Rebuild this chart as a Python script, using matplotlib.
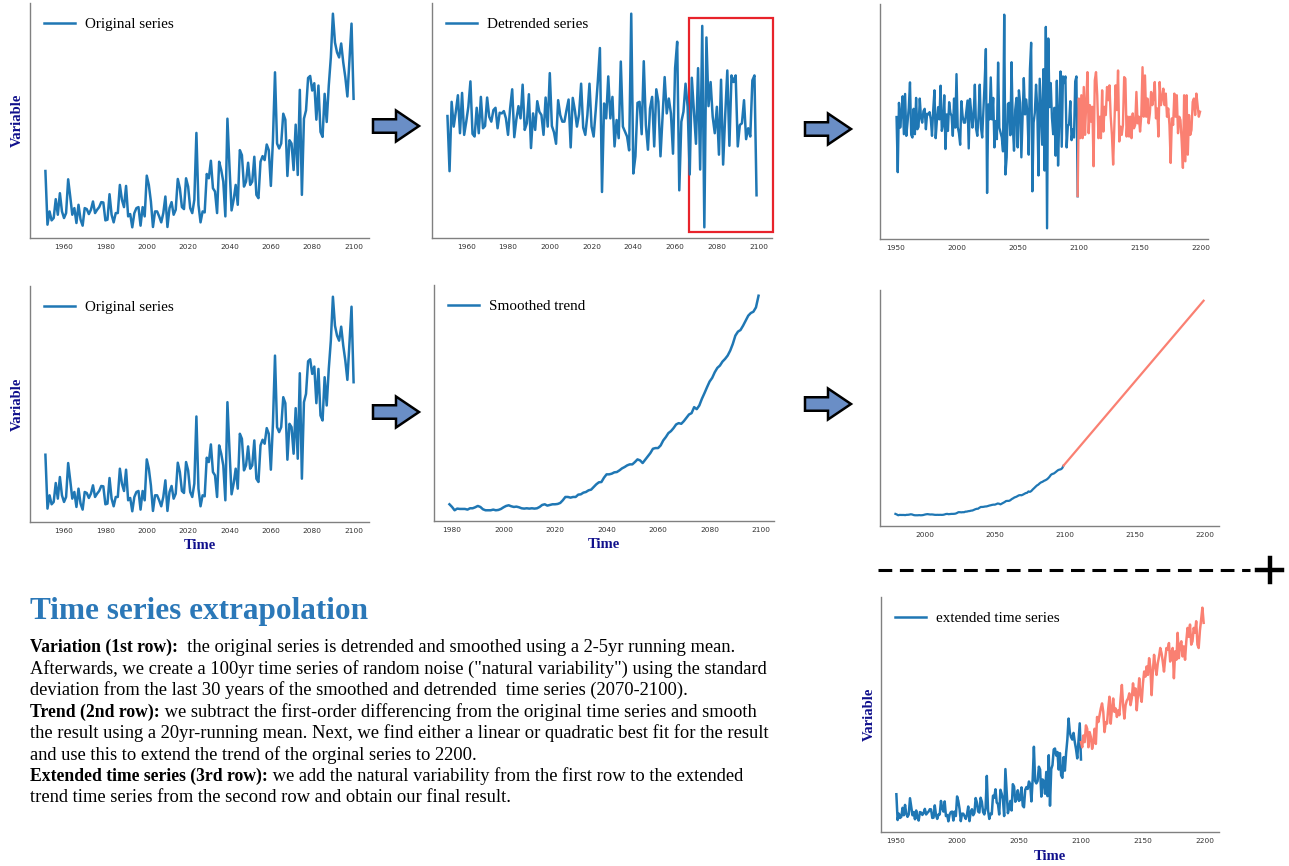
import numpy as np
import matplotlib
matplotlib.use("Agg")
import matplotlib.pyplot as plt
import matplotlib.transforms as mtransforms
from matplotlib.patches import FancyArrow, Rectangle
from matplotlib.lines import Line2D

plt.rcParams['font.serif'] = ['Liberation Serif', 'DejaVu Serif']

# ---- data (arbitrary units) ----
original = [202, 40, 80, 53, 60, 117, 70, 135, 80, 60, 75, 177, 125, 70, 90, 45, 100, 55, 37, 90,
            87, 72, 85, 110, 75, 85, 93, 108, 107, 53, 55, 132, 70, 47, 75, 75, 160, 115, 93, 157,
            65, 72, 32, 75, 90, 93, 37, 93, 65, 188, 160, 110, 33, 80, 80, 65, 47, 75, 125, 33,
            90, 108, 70, 85, 178, 150, 93, 87, 180, 155, 90, 75, 115, 317, 100, 47, 80, 77, 193, 180,
            233, 150, 140, 75, 230, 205, 170, 65, 360, 215, 83, 115, 160, 100, 265, 250, 155, 170, 227, 160,
            170, 245, 130, 120, 230, 247, 235, 282, 265, 157, 295, 500, 285, 270, 285, 375, 357, 187, 295, 285,
            205, 342, 190, 447, 130, 360, 385, 483, 489, 445, 467, 357, 460, 320, 305, 435, 350, 460, 545, 677,
            590, 560, 545, 587, 530, 485, 427, 537, 647, 420]
orig_start = 1951

detrended = [365, 198, 408, 333, 378, 428, 313, 435, 308, 348, 393, 470, 311, 303, 390, 313, 423, 328, 335, 421,
             363, 348, 383, 390, 328, 375, 373, 380, 358, 308, 388, 446, 301, 355, 395, 358, 460, 323, 343, 431,
             268, 373, 323, 410, 378, 368, 308, 421, 333, 495, 335, 316, 281, 413, 368, 348, 348, 383, 415, 270,
             420, 383, 333, 370, 463, 330, 308, 368, 463, 333, 303, 383, 470, 571, 135, 403, 358, 485, 358, 423,
             273, 353, 298, 530, 333, 318, 303, 261, 675, 191, 243, 405, 408, 310, 531, 338, 263, 388, 423, 273,
             446, 408, 243, 363, 483, 373, 418, 373, 251, 510, 590, 140, 348, 378, 463, 393, 188, 481, 383, 281,
             510, 203, 638, 28, 603, 395, 468, 363, 313, 393, 248, 475, 218, 368, 503, 275, 488, 468, 488, 273,
             338, 343, 413, 295, 328, 303, 473, 488, 125]
detr_start = 1951

noise_ext = [126, 421, 301, 431, 301, 456, 311, 406, 501, 316, 401, 351, 396, 216, 476, 501, 431, 301, 366, 301,
             446, 321, 396, 371, 456, 416, 461, 366, 311, 221, 341, 461, 386, 506, 291, 336, 311, 341, 486, 481,
             306, 366, 306, 366, 301, 376, 331, 341, 441, 346, 366, 321, 371, 516, 366, 491, 366, 421, 346, 376,
             441, 401, 426, 471, 361, 391, 306, 471, 401, 421, 451, 401, 436, 366, 391, 341, 226, 361, 341, 436,
             366, 431, 316, 366, 356, 291, 211, 431, 231, 431, 251, 371, 311, 326, 411, 421, 371, 436, 401, 366, 381]
noise_start = 2099

trend = [48, 40, 30, 35, 34, 34, 34, 32, 36, 36, 39, 43, 40, 33, 30, 30, 30, 32, 30, 31,
         34, 39, 43, 45, 42, 40, 41, 39, 36, 35, 36, 35, 36, 35, 36, 40, 46, 48, 44, 46,
         48, 48, 49, 52, 60, 70, 70, 68, 70, 70, 77, 78, 83, 85, 90, 92, 100, 108, 114, 115,
         128, 138, 138, 140, 144, 145, 150, 156, 160, 165, 168, 168, 175, 183, 180, 172, 182, 192, 202, 215,
         217, 217, 225, 240, 250, 262, 268, 277, 288, 292, 290, 298, 308, 318, 322, 340, 334, 345, 365, 382,
         400, 417, 428, 445, 458, 465, 477, 485, 495, 510, 530, 555, 567, 572, 585, 600, 615, 623, 627, 640, 675]
trend_start = 1979

trend_ext_years = [2099, 2199]
trend_ext = [675, 2818]

final_ext = [529, 497, 571, 529, 634, 613, 497, 592, 561, 487,
             529, 613, 518, 687, 655, 698, 740, 772, 719, 592, 655,
             645, 740, 814, 645, 740, 803, 719, 740, 687, 729,
             698, 803, 888, 761, 677, 761, 790, 803, 835, 761, 803,
             898, 824, 866, 729, 824, 930, 824, 782, 898, 972,
             940, 1004, 951, 1056, 1000, 824, 972, 1077, 1004, 951, 1025,
             1067, 1120, 1088, 1035, 972, 1056, 1120, 1109, 1151, 1035, 1090,
             1120, 930, 1099, 1046, 1215, 1056, 1141, 1162, 1067, 1130,
             1046, 1162, 1246, 1190, 1267, 1141, 1162, 1246, 1215, 1288, 1141,
             1120, 1230, 1299, 1373, 1278]
final_start = 2100

orig_years = np.arange(orig_start, orig_start + len(original))
detr_years = np.arange(detr_start, detr_start + len(detrended))
noise_years = np.arange(noise_start, noise_start + len(noise_ext))
trend_years = np.arange(trend_start, trend_start + len(trend))
final_years = np.arange(final_start, final_start + len(final_ext))

title = "Time series extrapolation"
body = [
    [("Variation (1st row):", "bold"), ("  the original series is detrended and smoothed using a 2-5yr running mean.", "normal")],
    [("Afterwards, we create a 100yr time series of random noise (\"natural variability\") using the standard", "normal")],
    [("deviation from the last 30 years of the smoothed and detrended  time series (2070-2100).", "normal")],
    [("Trend (2nd row):", "bold"), (" we subtract the first-order differencing from the original time series and smooth", "normal")],
    [("the result using a 20yr-running mean. Next, we find either a linear or quadratic best fit for the result", "normal")],
    [("and use this to extend the trend of the orginal series to 2200.", "normal")],
    [("Extended time series (3rd row):", "bold"), (" we add the natural variability from the first row to the extended", "normal")],
    [("trend time series from the second row and obtain our final result.", "normal")],
]

BLUE = '#1f77b4'
RED = 'salmon'
NAVY = '#10108c'
SERIF = 'Liberation Serif'
W, H = 1289, 866

fig = plt.figure(figsize=(W / 100, H / 100), dpi=100)


def px_axes(x0, y0, x1, y1):
    ax = fig.add_axes([x0 / W, 1 - y1 / H, (x1 - x0) / W, (y1 - y0) / H])
    for s in ['top', 'right']:
        ax.spines[s].set_visible(False)
    for s in ['left', 'bottom']:
        ax.spines[s].set_color('#808080')
        ax.spines[s].set_linewidth(1.0)
    ax.set_yticks([])
    ax.tick_params(axis='x', length=0, pad=4, labelsize=5.3, labelcolor='#333333')
    return ax


def legend(ax):
    ax.legend(loc='upper left', frameon=False, prop={'family': SERIF, 'size': 10.9},
              handlelength=2.0, handletextpad=0.7, borderaxespad=0.55)


def ylab(ax, x):
    ax.set_ylabel("Variable", family=SERIF, weight='bold', size=10.5, color=NAVY)
    ax.yaxis.set_label_coords(x, 0.5)


def xlab(ax, y):
    ax.set_xlabel("Time", family=SERIF, weight='bold', size=10.5, color=NAVY)
    ax.xaxis.set_label_coords(0.5, y)


# row 1
ax1 = px_axes(30, 3, 369, 238)
ax1.plot(orig_years, original, color=BLUE, lw=1.8, label='Original series')
ax1.set_xticks(range(1960, 2101, 20))
legend(ax1)
ylab(ax1, -0.017)

ax2 = px_axes(432, 3, 772, 238)
ax2.plot(detr_years, detrended, color=BLUE, lw=1.8, label='Detrended series')
ax2.set_xticks(range(1960, 2101, 20))
legend(ax2)
box_tr = mtransforms.blended_transform_factory(ax2.transData, ax2.transAxes)
ax2.add_patch(Rectangle((2066.5, 0.026), 40.3, 0.91, fill=False, ec='#e8232b', lw=1.6,
                        transform=box_tr, clip_on=False))

ax3 = px_axes(880, 4, 1208, 239)
ax3.plot(detr_years, detrended, color=BLUE, lw=1.7)
ax3.plot(noise_years, noise_ext, color=RED, lw=1.7)
ax3.set_xlim(1937.5, 2205.5)
ax3.set_xticks(range(1950, 2201, 50))

# row 2
ax4 = px_axes(30, 286, 369, 522)
ax4.plot(orig_years, original, color=BLUE, lw=1.8, label='Original series')
ax4.set_xticks(range(1960, 2101, 20))
legend(ax4)
ylab(ax4, -0.017)
xlab(ax4, -0.072)

ax5 = px_axes(434, 285, 774, 521)
ax5.plot(trend_years, trend, color=BLUE, lw=1.8, label='Smoothed trend')
ax5.set_xticks(range(1980, 2101, 20))
legend(ax5)
xlab(ax5, -0.072)

ax6 = px_axes(880, 290, 1219, 526)
ax6.plot(trend_years, trend, color=BLUE, lw=1.6)
ax6.plot(trend_ext_years, trend_ext, color=RED, lw=1.6)
ax6.set_xticks(range(2000, 2201, 50))

# row 3
ax7 = px_axes(881, 597, 1219, 832)
ax7.plot(orig_years, original, color=BLUE, lw=1.8, label='extended time series')
ax7.plot(final_years, final_ext, color=RED, lw=1.8)
ax7.set_xticks(range(1950, 2201, 50))
legend(ax7)
ylab(ax7, -0.014)
xlab(ax7, -0.075)

# arrows between panels (inch coordinates)
for x_px, y_px in [(373, 126), (805, 129), (373, 412), (805, 404)]:
    fig.add_artist(FancyArrow(x_px / 100, (H - y_px) / 100, 0.46, 0, width=0.135, head_width=0.31,
                              head_length=0.23, length_includes_head=True, fc='#6a8ec6', ec='black',
                              lw=1.8, transform=fig.dpi_scale_trans))

# dashed separator and plus sign
fig.add_artist(Line2D([8.78, 12.50], [(H - 570) / 100] * 2, color='black', lw=2.2,
                      linestyle=(0, (4.5, 2.5)), transform=fig.dpi_scale_trans))
fig.add_artist(Line2D([12.57, 12.82], [(H - 570) / 100] * 2, color='black', lw=3.2,
                      transform=fig.dpi_scale_trans))
fig.add_artist(Line2D([12.695, 12.695], [(H - 582) / 100, (H - 558) / 100], color='black', lw=3.2,
                      transform=fig.dpi_scale_trans))

# text block
fig.text(0.30, (H - 619) / 100, title, family=SERIF, weight='bold', size=22.5, color='#2b78b8',
         va='baseline', transform=fig.dpi_scale_trans)

renderer = fig.canvas.get_renderer()
baselines = [652, 674, 695, 717, 738, 760, 781, 802]
for y_px, parts in zip(baselines, body):
    x = 0.30
    for txt, wt in parts:
        size = 12.7 if wt == 'bold' else 13.3
        t = fig.text(x, (H - y_px) / 100, txt, family=SERIF, weight=wt, size=size, color='black',
                     va='baseline', transform=fig.dpi_scale_trans)
        x = t.get_window_extent(renderer=renderer).x1 / 100

fig.savefig("out.png", dpi=100)
